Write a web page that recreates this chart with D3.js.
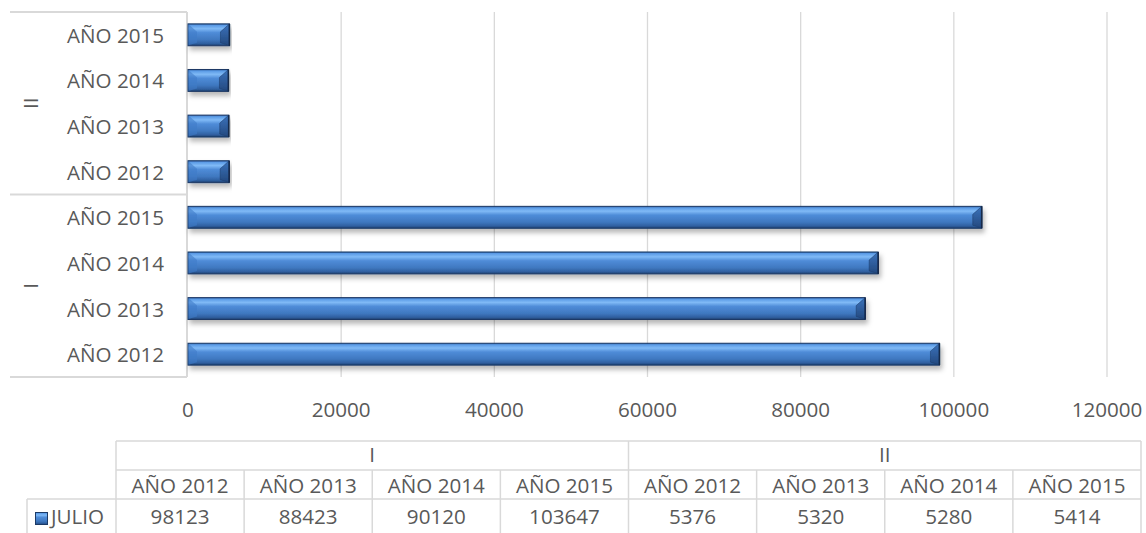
<!DOCTYPE html>
<html lang="es">
<head>
<meta charset="UTF-8">
<title>JULIO</title>
<style>
  body { margin: 0; background: #fff; }
  svg { display: block; }
  text { font-family: "Open Sans", "Noto Sans", sans-serif; fill: #595959; }
</style>
<script src="https://cdn.jsdelivr.net/npm/d3@7"></script>
</head>
<body>
<svg id="chart" width="1146" height="533"></svg>
<script>
// data
const groups = ["I", "II"];
const years = ["AÑO 2012", "AÑO 2013", "AÑO 2014", "AÑO 2015"];
const julioI = [98123, 88423, 90120, 103647];
const julioII = [5376, 5320, 5280, 5414];
const xTicks = [0, 20000, 40000, 60000, 80000, 100000, 120000];
const seriesName = "JULIO";

const rows = [];
groups.forEach((g, gi) => {
  const vals = gi === 0 ? julioI : julioII;
  years.forEach((y, i) => rows.push({ key: g + "|" + y, group: g, year: y, value: vals[i] }));
});

const svg = d3.select("#chart");
const plotL = 188, plotR = 1107, plotT = 12, plotB = 377;
const fontSize = 20.6;

const x = d3.scaleLinear().domain([0, 120000]).range([plotL, plotR]);
// top to bottom: group II first, years descending
const order = rows.slice().reverse().map(d => d.key);
const y = d3.scaleBand().domain(order).range([plotT, plotB]).paddingInner(0.52).paddingOuter(0.26);
const step = y.step();

// defs
const defs = svg.append("defs");
const grad = defs.append("linearGradient").attr("id", "barGrad").attr("x1", 0).attr("y1", 0).attr("x2", 0).attr("y2", 1);
[[0, "#2d5d9e"], [0.07, "#5b9be6"], [0.22, "#80baf6"], [0.4, "#4f8cd8"], [0.72, "#3f78c0"], [0.9, "#2f5f9f"], [1, "#1d3d6c"]]
  .forEach(s => grad.append("stop").attr("offset", s[0]).attr("stop-color", s[1]));
const endGrad = defs.append("linearGradient").attr("id", "endGrad").attr("x1", 0).attr("y1", 0).attr("x2", 0).attr("y2", 1);
[[0, "#3a72bb"], [1, "#24497f"]].forEach(s => endGrad.append("stop").attr("offset", s[0]).attr("stop-color", s[1]));
const shadow = defs.append("filter").attr("id", "shadow").attr("x", "-5%").attr("y", "-30%").attr("width", "110%").attr("height", "180%");
shadow.append("feDropShadow").attr("dx", 2).attr("dy", 4).attr("stdDeviation", 2.5)
  .attr("flood-color", "#000").attr("flood-opacity", 0.28);

// gridlines
svg.append("g").selectAll("line").data(xTicks.slice(1)).join("line")
  .attr("x1", d => x(d)).attr("x2", d => x(d))
  .attr("y1", plotT).attr("y2", plotB)
  .attr("stroke", "#d9d9d9").attr("stroke-width", 1.3);

// category axis frame
const axisCol = "#d9d9d9";
svg.append("line").attr("x1", plotL - 1).attr("x2", plotL - 1).attr("y1", plotT).attr("y2", plotB)
  .attr("stroke", axisCol).attr("stroke-width", 2);
const sepY = [plotT, y(order[3]) + y.bandwidth() + step * y.paddingInner() / 2, plotB];
svg.append("g").selectAll("line").data(sepY).join("line")
  .attr("x1", 10).attr("x2", plotL - 1).attr("y1", d => d).attr("y2", d => d)
  .attr("stroke", axisCol).attr("stroke-width", 2);

// category labels
svg.append("g").selectAll("text").data(rows).join("text")
  .attr("x", 164).attr("y", d => y(d.key) + y.bandwidth() / 2)
  .attr("text-anchor", "end").attr("dominant-baseline", "central")
  .style("font-size", fontSize + "px")
  .text(d => d.year);

// group labels (rotated)
groups.forEach((g, gi) => {
  const keys = rows.filter(d => d.group === g).map(d => d.key);
  const ys = keys.map(k => y(k) + y.bandwidth() / 2);
  const cy = (d3.min(ys) + d3.max(ys)) / 2;
  svg.append("text")
    .attr("transform", `translate(30,${cy}) rotate(-90)`)
    .attr("text-anchor", "middle").attr("dominant-baseline", "central")
    .style("font-size", fontSize + "px")
    .text(g);
});

// bars
const bh = y.bandwidth();
const bar = svg.append("g").selectAll("g").data(rows).join("g").attr("filter", "url(#shadow)");
bar.append("rect")
  .attr("x", x(0)).attr("y", d => y(d.key))
  .attr("width", d => x(d.value) - x(0)).attr("height", bh)
  .attr("fill", "url(#barGrad)").attr("stroke", "#1c3a66").attr("stroke-width", 1);
// left bevel
bar.append("path")
  .attr("d", d => {
    const y0 = y(d.key);
    return `M${x(0) + 0.5},${y0 + 0.5} L${x(0) + 9},${y0 + 8} L${x(0) + 9},${y0 + bh - 3} L${x(0) + 0.5},${y0 + bh - 0.5} Z`;
  })
  .attr("fill", "#3f7cc8").attr("opacity", 0.6);
// right bevel
bar.append("path")
  .attr("d", d => {
    const y0 = y(d.key), x1 = x(d.value);
    return `M${x1 - 0.5},${y0 + 0.5} L${x1 - 9},${y0 + 8} L${x1 - 9},${y0 + bh - 3} L${x1 - 0.5},${y0 + bh - 0.5} Z`;
  })
  .attr("fill", "url(#endGrad)").attr("stroke", "#1c3a66").attr("stroke-width", 0.5);
bar.append("line")
  .attr("x1", d => x(d.value)).attr("x2", d => x(d.value))
  .attr("y1", d => y(d.key)).attr("y2", d => y(d.key) + bh)
  .attr("stroke", "#13294a").attr("stroke-width", 1.5);

// x tick labels
svg.append("g").selectAll("text").data(xTicks).join("text")
  .attr("x", d => x(d)).attr("y", 409)
  .attr("text-anchor", "middle").attr("dominant-baseline", "central")
  .style("font-size", fontSize + "px")
  .text(d => d);

// data table
const tLeft = 116, tRight = 1141, keyLeft = 27;
const rTop = 441, r1 = 470, r2 = 499, rEnd = 540;
const col = d3.scaleBand().domain(rows.map(d => d.key)).range([tLeft, tRight]);
const tg = svg.append("g").attr("stroke", "#d9d9d9").attr("stroke-width", 1.5);
tg.append("line").attr("x1", tLeft).attr("x2", tRight).attr("y1", rTop).attr("y2", rTop);
tg.append("line").attr("x1", tLeft).attr("x2", tRight).attr("y1", r1).attr("y2", r1);
tg.append("line").attr("x1", keyLeft).attr("x2", tRight).attr("y1", r2).attr("y2", r2);
tg.append("line").attr("x1", keyLeft).attr("x2", keyLeft).attr("y1", r2).attr("y2", rEnd);
// group boundaries span the header row
const groupEdges = [tLeft, col(rows[4].key), tRight];
tg.selectAll(".ge").data(groupEdges).join("line").attr("class", "ge")
  .attr("x1", d => d).attr("x2", d => d).attr("y1", rTop).attr("y2", r1);
const colEdges = rows.map(d => col(d.key)).concat([tRight]);
tg.selectAll(".ce").data(colEdges).join("line").attr("class", "ce")
  .attr("x1", d => d).attr("x2", d => d).attr("y1", r1).attr("y2", rEnd);

groups.forEach((g, gi) => {
  svg.append("text")
    .attr("x", (groupEdges[gi] + groupEdges[gi + 1]) / 2).attr("y", 454)
    .attr("text-anchor", "middle").attr("dominant-baseline", "central")
    .style("font-size", fontSize + "px").text(g);
});
svg.append("g").selectAll("text").data(rows).join("text")
  .attr("x", d => col(d.key) + col.bandwidth() / 2).attr("y", 485)
  .attr("text-anchor", "middle").attr("dominant-baseline", "central")
  .style("font-size", fontSize + "px").text(d => d.year);
svg.append("g").selectAll("text").data(rows).join("text")
  .attr("x", d => col(d.key) + col.bandwidth() / 2).attr("y", 516)
  .attr("text-anchor", "middle").attr("dominant-baseline", "central")
  .style("font-size", fontSize + "px").text(d => d.value);

// legend key
svg.append("rect").attr("x", 35.5).attr("y", 512.5).attr("width", 12).attr("height", 12)
  .attr("fill", "url(#barGrad)").attr("stroke", "#1c3a66").attr("stroke-width", 1);
svg.append("text").attr("x", 51).attr("y", 516).attr("dominant-baseline", "central")
  .style("font-size", fontSize + "px").text(seriesName);
</script>
</body>
</html>
